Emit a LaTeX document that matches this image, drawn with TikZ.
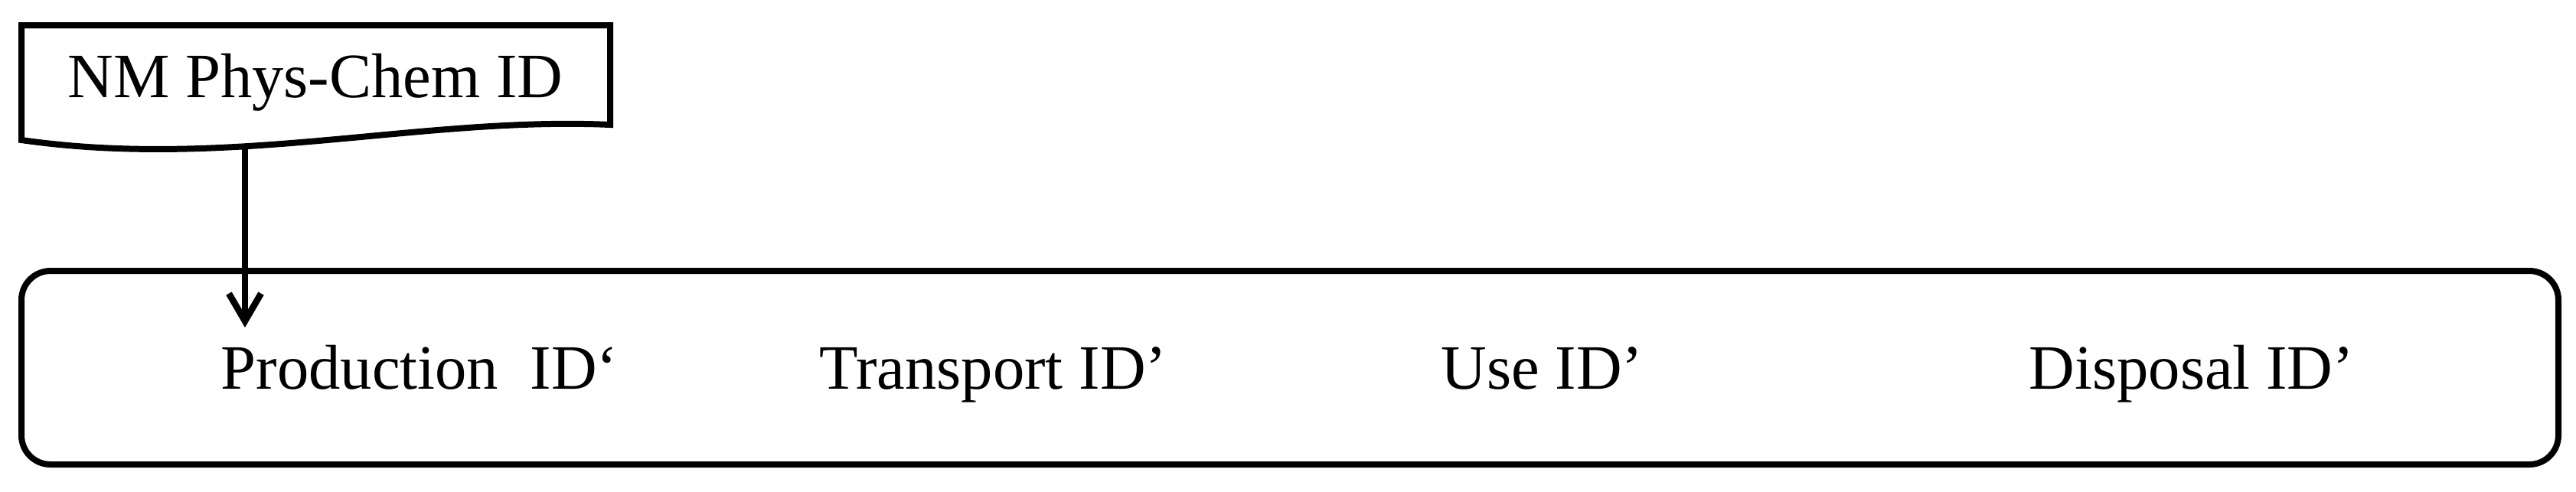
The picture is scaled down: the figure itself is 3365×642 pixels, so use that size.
\documentclass[tikz,border=0pt]{standalone}
\usepackage{fontspec}
\setmainfont{Liberation Serif}
\usepackage{tikz}
\usetikzlibrary{arrows.meta,calc,positioning}
\tikzset{
  docshape/.style={draw, line width=0.8mm, line join=miter},       % data sheet box
  stagebox/.style={draw, line width=0.8mm, rounded corners=3.8mm,
    minimum width=331.4mm, minimum height=25.3mm, inner sep=0pt},  % life cycle frame
  stagelabel/.style={anchor=base west, inner sep=0pt, font=\fontsize{23.5}{28}\selectfont},
  doclabel/.style={anchor=base, inner sep=0pt, font=\fontsize{23.5}{28}\selectfont},
  flowarrow/.style={-{Straight Barb[length=3.6mm, width=4.2mm]}, line width=0.85mm}
}

\begin{document}
\begin{tikzpicture}[x=0.1mm, y=-0.1mm]
  \useasboundingbox (0,0) rectangle (3365,642);
  % physico-chemical identity sheet
  \draw[docshape] (28,33) -- (797,33) -- (797,163)
    .. controls (550,152) and (300,222) .. (28,183) -- cycle;
  \node[doclabel] (nmid) at (412,127) {NM Phys-Chem ID};
  % life cycle frame
  \node[stagebox] (cycle) at (1685,480.5) {};
  \node[stagelabel] (prod) at (288,508) {Production\ \ ID‘};
  \node[stagelabel] (trans) at (1070,508) {Transport ID’};
  \node[stagelabel] (use) at (1882,508) {Use ID’};
  \node[stagelabel] (disp) at (2650,508) {Disposal ID’};
  % feed into production
  \coordinate (docfoot) at (320,190);
  \coordinate (tip) at (320,428);
  \draw[flowarrow] (docfoot) -- (tip);
\end{tikzpicture}
\end{document}
